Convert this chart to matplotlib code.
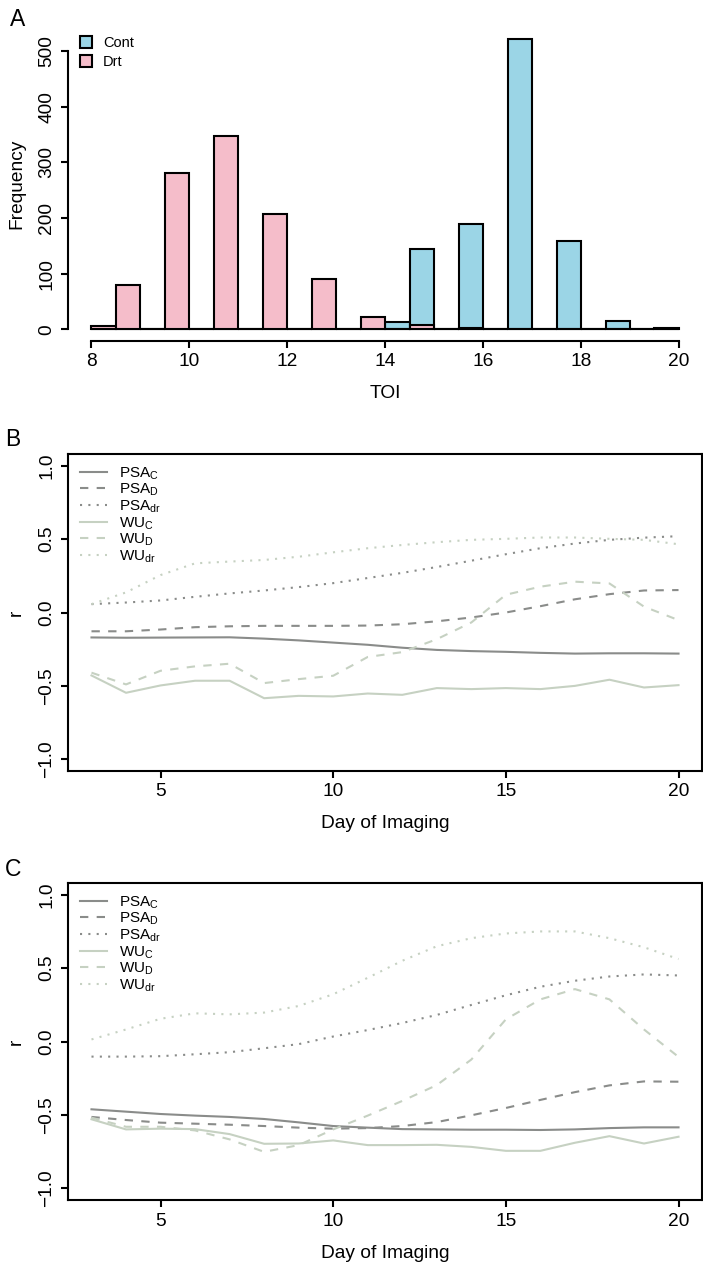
import matplotlib
matplotlib.use("Agg")
import matplotlib.pyplot as plt
from matplotlib.patches import Patch
import numpy as np

plt.rcParams['font.family'] = ['Liberation Sans', 'DejaVu Sans']

# ---- panel A: histogram of TOI (bins of width 0.5 from 8 to 20)
bin_left = np.arange(8, 20, 0.5)
cont_counts = [0, 0, 0, 0, 0, 0, 0, 0, 0, 0, 0, 0,
               13, 145, 0, 190, 0, 522, 0, 158, 0, 15, 0, 2]
drt_counts = [6, 80, 0, 280, 0, 348, 0, 208, 0, 90, 0, 22,
              0, 8, 0, 2, 0, 0, 0, 0, 0, 0, 0, 0]

# ---- panels B, C: correlation by day of imaging
days = list(range(3, 21))

b_psa_c = [-0.17, -0.172, -0.171, -0.17, -0.169, -0.178, -0.19, -0.205, -0.22,
           -0.24, -0.255, -0.263, -0.268, -0.275, -0.28, -0.278, -0.278, -0.28]
b_psa_d = [-0.128, -0.128, -0.116, -0.10, -0.094, -0.091, -0.091, -0.091, -0.089,
           -0.08, -0.06, -0.034, 0.0, 0.043, 0.09, 0.125, 0.15, 0.153]
b_psa_dr = [0.057, 0.068, 0.082, 0.107, 0.13, 0.15, 0.173, 0.2, 0.235,
            0.27, 0.31, 0.353, 0.397, 0.438, 0.47, 0.495, 0.51, 0.52]
b_wu_c = [-0.429, -0.547, -0.497, -0.465, -0.465, -0.584, -0.568, -0.572, -0.552,
          -0.561, -0.515, -0.522, -0.515, -0.522, -0.5, -0.458, -0.511, -0.495]
b_wu_d = [-0.41, -0.49, -0.397, -0.367, -0.349, -0.481, -0.454, -0.431, -0.303,
          -0.27, -0.182, -0.068, 0.121, 0.176, 0.21, 0.198, 0.04, -0.052]
b_wu_dr = [0.057, 0.137, 0.255, 0.335, 0.347, 0.358, 0.38, 0.41, 0.438,
           0.46, 0.479, 0.495, 0.502, 0.511, 0.511, 0.502, 0.495, 0.465]

c_psa_c = [-0.462, -0.478, -0.494, -0.505, -0.514, -0.528, -0.551, -0.576, -0.587,
           -0.597, -0.599, -0.601, -0.601, -0.603, -0.599, -0.59, -0.585, -0.585]
c_psa_d = [-0.514, -0.535, -0.553, -0.56, -0.567, -0.576, -0.587, -0.594, -0.59,
           -0.576, -0.549, -0.503, -0.453, -0.398, -0.345, -0.299, -0.272, -0.274]
c_psa_dr = [-0.103, -0.103, -0.10, -0.087, -0.073, -0.046, -0.018, 0.034, 0.078,
            0.126, 0.181, 0.249, 0.315, 0.373, 0.414, 0.443, 0.457, 0.45]
c_wu_c = [-0.53, -0.599, -0.594, -0.597, -0.631, -0.697, -0.695, -0.674, -0.706,
          -0.706, -0.704, -0.718, -0.745, -0.745, -0.69, -0.645, -0.695, -0.649]
c_wu_d = [-0.519, -0.581, -0.581, -0.606, -0.667, -0.752, -0.706, -0.599, -0.505,
          -0.405, -0.297, -0.123, 0.151, 0.287, 0.357, 0.287, 0.082, -0.105]
c_wu_dr = [0.014, 0.082, 0.155, 0.192, 0.185, 0.197, 0.242, 0.322, 0.434,
           0.55, 0.649, 0.704, 0.736, 0.75, 0.75, 0.704, 0.642, 0.562]

series_names = [r'PSA$_\mathregular{C}$', r'PSA$_\mathregular{D}$', r'PSA$_\mathregular{dr}$',
                r'WU$_\mathregular{C}$', r'WU$_\mathregular{D}$', r'WU$_\mathregular{dr}$']

BLUE = '#9BD5E6'
PINK = '#F5BDCA'
DARK = '#8A8C8A'
LIGHT = '#C6D1C2'
styles = [(DARK, '-'), (DARK, (0, (4, 4))), (DARK, (0, (1, 3))),
          (LIGHT, '-'), (LIGHT, (0, (4, 4))), (LIGHT, (0, (1, 3)))]

TICK_FS = 13.8
W, H = 703, 1265
fig = plt.figure(figsize=(W / 100, H / 100), dpi=100)


def ax_rect(x0, y0, x1, y1):
    return [x0 / W, 1 - y1 / H, (x1 - x0) / W, (y1 - y0) / H]


# ---------------- A
axA = fig.add_axes(ax_rect(67.6, 27, 702.5, 341))
axA.bar(bin_left, cont_counts, width=0.5, align='edge', color=BLUE,
        edgecolor='black', linewidth=1.5, zorder=2)
axA.bar(bin_left, drt_counts, width=0.5, align='edge', color=PINK,
        edgecolor='black', linewidth=1.5, zorder=3)
ymax = max(cont_counts)
axA.set_xlim(8 - 0.04 * 12, 20 + 0.04 * 12)
axA.set_ylim(-0.04 * ymax, 1.04 * ymax)
for s in ['top', 'right']:
    axA.spines[s].set_visible(False)
axA.spines['left'].set_bounds(0, 500)
axA.spines['bottom'].set_bounds(8, 20)
axA.spines['left'].set_linewidth(1.5)
axA.spines['bottom'].set_linewidth(1.5)
axA.set_xticks(range(8, 21, 2))
axA.set_yticks(range(0, 501, 100))
axA.tick_params(direction='out', length=5, width=1.5, labelsize=TICK_FS, pad=4)
for lab in axA.get_yticklabels():
    lab.set_rotation(90)
    lab.set_va('center')
axA.set_xlabel('TOI', fontsize=TICK_FS)
axA.set_ylabel('Frequency', fontsize=TICK_FS)
axA.xaxis.set_label_coords(0.5, -0.14)
axA.yaxis.set_label_coords(-0.066, 0.5)
axA.legend(handles=[Patch(facecolor=BLUE, edgecolor='black', linewidth=1.5, label='Cont'),
                    Patch(facecolor=PINK, edgecolor='black', linewidth=1.5, label='Drt')],
           loc='upper left', bbox_to_anchor=(0.01, 0.99), frameon=False, fontsize=10.5,
           handlelength=0.85, handleheight=0.85, handletextpad=0.75, labelspacing=0.35,
           borderaxespad=0.0)


# ---------------- B and C
def corr_panel(rect, data, xlabel_y):
    ax = fig.add_axes(rect)
    for vals, (col, ls), name in zip(data, styles, series_names):
        ax.plot(days, vals, color=col, linestyle=ls, linewidth=1.5, label=name)
    ax.set_xlim(3 - 0.04 * 17, 20 + 0.04 * 17)
    ax.set_ylim(-1.08, 1.08)
    for s in ax.spines.values():
        s.set_linewidth(1.5)
    ax.set_xticks([5, 10, 15, 20])
    ax.set_yticks([-1.0, -0.5, 0.0, 0.5, 1.0])
    ax.set_yticklabels(['\u22121.0', '\u22120.5', '0.0', '0.5', '1.0'])
    ax.tick_params(direction='out', length=5, width=1.5, labelsize=TICK_FS, pad=4)
    for lab in ax.get_yticklabels():
        lab.set_rotation(90)
        lab.set_va('center')
    ax.set_xlabel('Day of Imaging', fontsize=TICK_FS)
    ax.set_ylabel('r', fontsize=TICK_FS)
    ax.xaxis.set_label_coords(0.5, xlabel_y)
    ax.yaxis.set_label_coords(-0.069, 0.5)
    ax.legend(loc='upper left', bbox_to_anchor=(0.01, 0.985), frameon=False, fontsize=11,
              handlelength=1.75, handletextpad=0.8, labelspacing=0.0, borderaxespad=0.0)
    return ax


corr_panel(ax_rect(68, 454, 702, 771),
           [b_psa_c, b_psa_d, b_psa_dr, b_wu_c, b_wu_d, b_wu_dr], -0.139)
corr_panel(ax_rect(68, 883, 702, 1200),
           [c_psa_c, c_psa_d, c_psa_dr, c_wu_c, c_wu_d, c_wu_dr], -0.142)

fig.text(10 / W, 1 - 8 / H, 'A', fontsize=16.5, va='top', ha='left')
fig.text(5 / W, 1 - 428 / H, 'B', fontsize=16.5, va='top', ha='left')
fig.text(5 / W, 1 - 858 / H, 'C', fontsize=16.5, va='top', ha='left')

fig.savefig('out.png', dpi=100)
